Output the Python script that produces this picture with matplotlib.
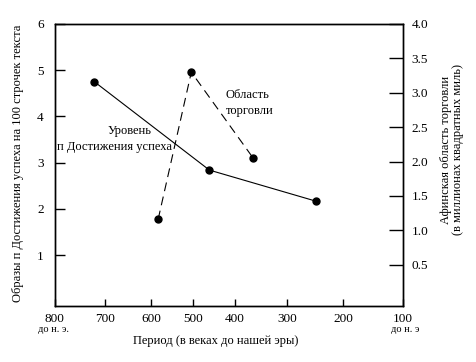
import numpy as np
import matplotlib
matplotlib.use("Agg")
import matplotlib.pyplot as plt

plt.rcParams['font.family'] = ['Liberation Serif', 'DejaVu Serif']

# data
years_ach = [721, 461, 249]
ach = [4.75, 2.84, 2.17]
years_trade = [583, 504, 365]
trade = [1.16, 3.3, 2.05]

x_ticks = [800, 700, 600, 500, 400, 300, 200, 100]
left_ticks = [1, 2, 3, 4, 5, 6]
right_ticks = [0.5, 1.0, 1.5, 2.0, 2.5, 3.0, 3.5, 4.0]

# the original axis is hand drawn, ticks are not evenly spaced
tick_px = np.array([54.7, 105, 151, 193, 235, 287, 343, 403])
yrs_up = np.array(x_ticks[::-1], dtype=float)
u_up = (403 - tick_px)[::-1]

def fwd(y):
    return np.interp(y, yrs_up, u_up)

def inv(u):
    return np.interp(u, u_up, yrs_up)

W, H = 477, 362
def px(x, y):
    return x / W, 1 - y / H

fig = plt.figure(figsize=(W / 100, H / 100), dpi=100)
ax = fig.add_axes([54.7 / W, 1 - 306 / H, (403 - 54.7) / W, (306 - 24) / H])
ax.set_xscale('function', functions=(fwd, inv))
ax.set_xlim(800, 100)
ax.set_ylim(-0.1, 6)

ax.plot(years_ach, ach, color='black', lw=0.8, marker='o', ms=5)

ax.set_xticks(x_ticks)
ax.set_xticklabels([str(v) for v in x_ticks])
ax.set_yticks(left_ticks)
ax.set_yticklabels([str(v) for v in left_ticks])
ax.tick_params(axis='both', direction='in', labelsize=9.5, width=1, color='black')
ax.tick_params(axis='y', length=7, pad=8)
ax.tick_params(axis='x', length=5, pad=5)
ax.minorticks_off()
for s in ax.spines.values():
    s.set_linewidth(1.0)

ax2 = ax.twinx()
ax2.set_ylim(-0.1, 4)
ax2.plot(years_trade, trade, color='black', lw=0.8, marker='o', ms=5,
         dashes=(8, 5))
ax2.set_yticks(right_ticks)
ax2.set_yticklabels([f"{v:.1f}" for v in right_ticks])
ax2.tick_params(axis='y', direction='in', length=10, width=1, labelsize=9.5, pad=6)
for s in ax2.spines.values():
    s.set_linewidth(1.0)

fig.text(*px(18, 163), "Образы п Достижения успеха на 100 строчек текста",
         rotation=90, ha='center', va='center', fontsize=9)
fig.text(*px(452, 150), "Афинская область торговли\n(в миллионах квадратных миль)",
         rotation=90, ha='center', va='center', fontsize=9, linespacing=1.1)
fig.text(*px(216, 341), "Период (в веках до нашей эры)",
         ha='center', va='center', fontsize=9)
fig.text(*px(54, 330), "до н. э.", ha='center', va='center', fontsize=7.5)
fig.text(*px(405, 330), "до н. э", ha='center', va='center', fontsize=7.5)

fig.text(*px(130, 131), "Уровень", ha='center', va='center', fontsize=9)
fig.text(*px(57, 147), "п Достижения успеха", ha='left', va='center', fontsize=9)
fig.text(*px(226, 95), "Область", ha='left', va='center', fontsize=9)
fig.text(*px(226, 111), "торговли", ha='left', va='center', fontsize=9)

fig.savefig("out.png", dpi=100)
